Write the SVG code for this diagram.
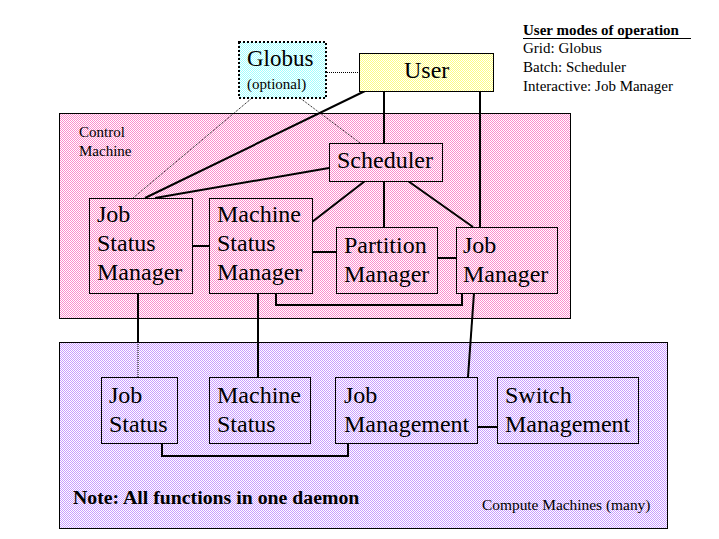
<svg xmlns="http://www.w3.org/2000/svg" width="719" height="539" viewBox="0 0 719 539" font-family="'Liberation Serif', 'Times New Roman', Times, 'DejaVu Serif', 'Noto Serif', serif">
<defs>
<pattern id="pink" patternUnits="userSpaceOnUse" x="0" y="0" width="2" height="2"><rect width="2" height="2" fill="#ffffff"/><rect width="1" height="1" fill="#fc8ccc"/><rect x="1" y="1" width="1" height="1" fill="#fc8ccc"/></pattern>
<pattern id="purple" patternUnits="userSpaceOnUse" x="0" y="0" width="2" height="2"><rect width="2" height="2" fill="#ffffff"/><rect width="1" height="1" fill="#c99cff"/><rect x="1" y="1" width="1" height="1" fill="#c99cff"/></pattern>
<pattern id="yellow" patternUnits="userSpaceOnUse" x="0" y="0" width="2" height="2"><rect width="2" height="2" fill="#ffffff"/><rect width="1" height="1" fill="#ffff80"/><rect x="1" y="1" width="1" height="1" fill="#ffff80"/></pattern>
<pattern id="cyan" patternUnits="userSpaceOnUse" x="0" y="0" width="2" height="2"><rect width="2" height="2" fill="#ffffff"/><rect width="1" height="1" fill="#a0ffff"/><rect x="1" y="1" width="1" height="1" fill="#a0ffff"/></pattern>
</defs>
<style>
text{font-family:'Liberation Serif','Times New Roman',Times,'DejaVu Serif','Noto Serif',serif;fill:#000}
.n{font-size:24px}
.s{font-size:15px}
.box{stroke:#000;stroke-width:1}
.c{stroke:#000;stroke-width:2;fill:none}
.d{stroke:#000;stroke-width:1;stroke-dasharray:1 1;fill:none}
</style>
<rect width="719" height="539" fill="#ffffff"/>
<g id="legend">
<text class="s" x="523" y="35" font-weight="bold">User modes of operation</text>
<line x1="523" y1="38.5" x2="691" y2="38.5" stroke="#000" stroke-width="1"/>
<text class="s" x="523" y="53">Grid: Globus</text>
<text class="s" x="523" y="72">Batch: Scheduler</text>
<text class="s" x="523" y="91">Interactive: Job Manager</text>
</g>
<g id="control-machine">
<rect class="box" x="59.5" y="113.5" width="511" height="205" fill="url(#pink)"/>
<text class="s" x="79" y="137">Control</text>
<text class="s" x="79" y="156">Machine</text>
</g>
<g id="compute-machines">
<rect class="box" x="59.5" y="342.5" width="608" height="186" fill="url(#purple)"/>
<text x="73" y="504" font-size="19.8" font-weight="bold">Note: All functions in one daemon</text>
<text x="482" y="510" font-size="15.4">Compute Machines (many)</text>
</g>
<g id="connectors">
<line class="d" x1="327" y1="72.5" x2="359" y2="72.5"/>
<line class="d" x1="252" y1="98" x2="133" y2="198"/>
<line class="d" x1="300" y1="98" x2="360" y2="143"/>
<line class="c" x1="365" y1="91" x2="145" y2="198"/>
<line class="c" x1="329" y1="168" x2="155" y2="198"/>
<line class="c" x1="384" y1="91" x2="384" y2="143"/>
<line class="c" x1="480" y1="91" x2="480" y2="227"/>
<line class="c" x1="365" y1="181" x2="312" y2="222"/>
<line class="c" x1="384" y1="181" x2="384" y2="227"/>
<line class="c" x1="408" y1="181" x2="473" y2="227"/>
<line class="c" x1="192" y1="246" x2="209" y2="246"/>
<line class="c" x1="312" y1="252" x2="336" y2="252"/>
<line class="c" x1="437" y1="258" x2="456" y2="258"/>
<polyline class="c" points="276,293 276,305 462,305 462,293"/>
<line class="c" x1="138" y1="293" x2="138" y2="342"/>
<line class="d" x1="138" y1="342" x2="138" y2="377"/>
<line class="c" x1="258" y1="293" x2="258" y2="377"/>
<line class="c" x1="474" y1="293" x2="468" y2="377"/>
<polyline class="c" points="162,443 162,456 348,456 348,443"/>
<line class="c" x1="477" y1="427" x2="497" y2="427"/>
</g>
<g id="globus">
<rect x="239" y="42" width="87" height="56" fill="url(#cyan)" stroke="#000" stroke-width="2" stroke-dasharray="2 2"/>
<text x="247" y="66" font-size="23">Globus</text>
<text x="247" y="89" font-size="15">(optional)</text>
</g>
<g id="user">
<rect class="box" x="359.5" y="53.5" width="134" height="38" fill="url(#yellow)"/>
<text class="n" x="404" y="78">User</text>
</g>
<g id="scheduler">
<rect class="box" x="329.5" y="143.5" width="113" height="38" fill="url(#pink)"/>
<text class="n" x="337" y="168">Scheduler</text>
</g>
<g id="job-status-manager">
<rect class="box" x="89.5" y="198.5" width="103" height="95" fill="url(#pink)"/>
<text class="n" x="97" y="222">Job</text>
<text class="n" x="97" y="251">Status</text>
<text class="n" x="97" y="280">Manager</text>
</g>
<g id="machine-status-manager">
<rect class="box" x="209.5" y="198.5" width="103" height="95" fill="url(#pink)"/>
<text class="n" x="217" y="222">Machine</text>
<text class="n" x="217" y="251">Status</text>
<text class="n" x="217" y="280">Manager</text>
</g>
<g id="partition-manager">
<rect class="box" x="336.5" y="227.5" width="101" height="66" fill="url(#pink)"/>
<text class="n" x="344" y="253">Partition</text>
<text class="n" x="344" y="282">Manager</text>
</g>
<g id="job-manager">
<rect class="box" x="456.5" y="227.5" width="101" height="66" fill="url(#pink)"/>
<text class="n" x="463" y="253">Job</text>
<text class="n" x="463" y="282">Manager</text>
</g>
<g id="job-status">
<rect class="box" x="101.5" y="377.5" width="76" height="66" fill="url(#purple)"/>
<text class="n" x="109" y="403">Job</text>
<text class="n" x="109" y="432">Status</text>
</g>
<g id="machine-status">
<rect class="box" x="209.5" y="377.5" width="101" height="66" fill="url(#purple)"/>
<text class="n" x="217" y="403">Machine</text>
<text class="n" x="217" y="432">Status</text>
</g>
<g id="job-management">
<rect class="box" x="335.5" y="377.5" width="142" height="66" fill="url(#purple)"/>
<text class="n" x="344" y="403">Job</text>
<text class="n" x="344" y="432">Management</text>
</g>
<g id="switch-management">
<rect class="box" x="497.5" y="377.5" width="141" height="66" fill="url(#purple)"/>
<text class="n" x="505" y="403">Switch</text>
<text class="n" x="505" y="432">Management</text>
</g>
</svg>
